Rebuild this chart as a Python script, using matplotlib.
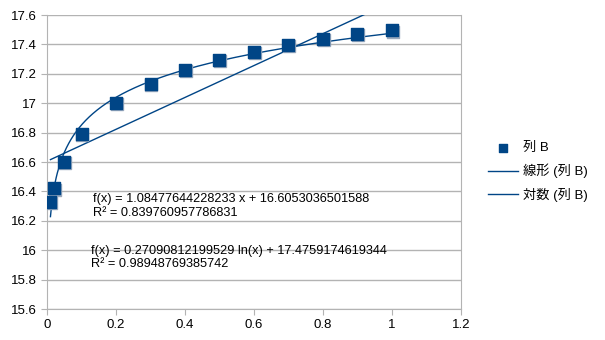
import matplotlib.pyplot as plt
import numpy as np

plt.rcParams['font.family'] = ['Liberation Sans', 'Noto Sans CJK JP']

# measured values (列 B)
x_vals = [0.01, 0.02, 0.05, 0.1, 0.2, 0.3, 0.4, 0.5, 0.6, 0.7, 0.8, 0.9, 1.0]
y_vals = [16.33, 16.42, 16.60, 16.79, 17.00, 17.13, 17.225, 17.295, 17.35, 17.395, 17.44, 17.47, 17.495]

# trend line coefficients
lin_slope, lin_icpt, lin_r2 = 1.08477644228233, 16.6053036501588, 0.839760957786831
log_coef, log_icpt, log_r2 = 0.27090812199529, 17.4759174619344, 0.98948769385742

blue = '#004586'
grey = '#b3b3b3'

fig = plt.figure(figsize=(6.05, 3.4), dpi=100)
ax = fig.add_axes([47/605, 1-309/340, 414/605, 294/340])

xs = np.linspace(0.01, 1.0, 300)
ax.plot(xs, lin_slope*xs + lin_icpt, color=blue, lw=1, label='線形 (列 B)')
ax.plot(xs, log_coef*np.log(xs) + log_icpt, color=blue, lw=1, label='対数 (列 B)')
# slight shadow under each marker
ax.scatter(np.array(x_vals)+0.002, np.array(y_vals)-0.008, marker='s', s=68, color='#9aa9bd', zorder=3)
ax.scatter(x_vals, y_vals, marker='s', s=68, color=blue, zorder=4, label='列 B')

ax.set_xlim(0, 1.2)
ax.set_ylim(15.6, 17.6)
ax.set_xticks(np.arange(0, 1.21, 0.2))
ax.set_xticklabels(['0', '0.2', '0.4', '0.6', '0.8', '1', '1.2'])
ax.set_yticks(np.arange(15.6, 17.61, 0.2))
ax.set_yticklabels(['15.6', '15.8', '16', '16.2', '16.4', '16.6', '16.8', '17', '17.2', '17.4', '17.6'])
ax.yaxis.grid(True, color=grey, lw=1)
ax.set_axisbelow(True)
for s in ['left', 'bottom', 'right']:
    ax.spines[s].set_color(grey)
ax.spines['top'].set_visible(False)
ax.tick_params(colors=grey, labelcolor='black', labelsize=9.5, length=4, direction='out')

ax.text(0.133, 16.30, 'f(x) = %s x + %s\nR² = %s' % (lin_slope, lin_icpt, lin_r2),
        fontsize=9.2, linespacing=1.2, va='center', ha='left')
ax.text(0.128, 15.95, 'f(x) = %s ln(x) + %s\nR² = %s' % (log_coef, log_icpt, log_r2),
        fontsize=9.2, linespacing=1.2, va='center', ha='left')

h, l = ax.get_legend_handles_labels()
order = [2, 0, 1]
fig.legend([h[i] for i in order], [l[i] for i in order], loc='upper left',
           bbox_to_anchor=(476/605, 1-130/340), frameon=False, fontsize=9.5,
           handlelength=2.3, labelspacing=0.72, handletextpad=0.35, markerscale=0.7)

fig.savefig('out.png', dpi=100)
